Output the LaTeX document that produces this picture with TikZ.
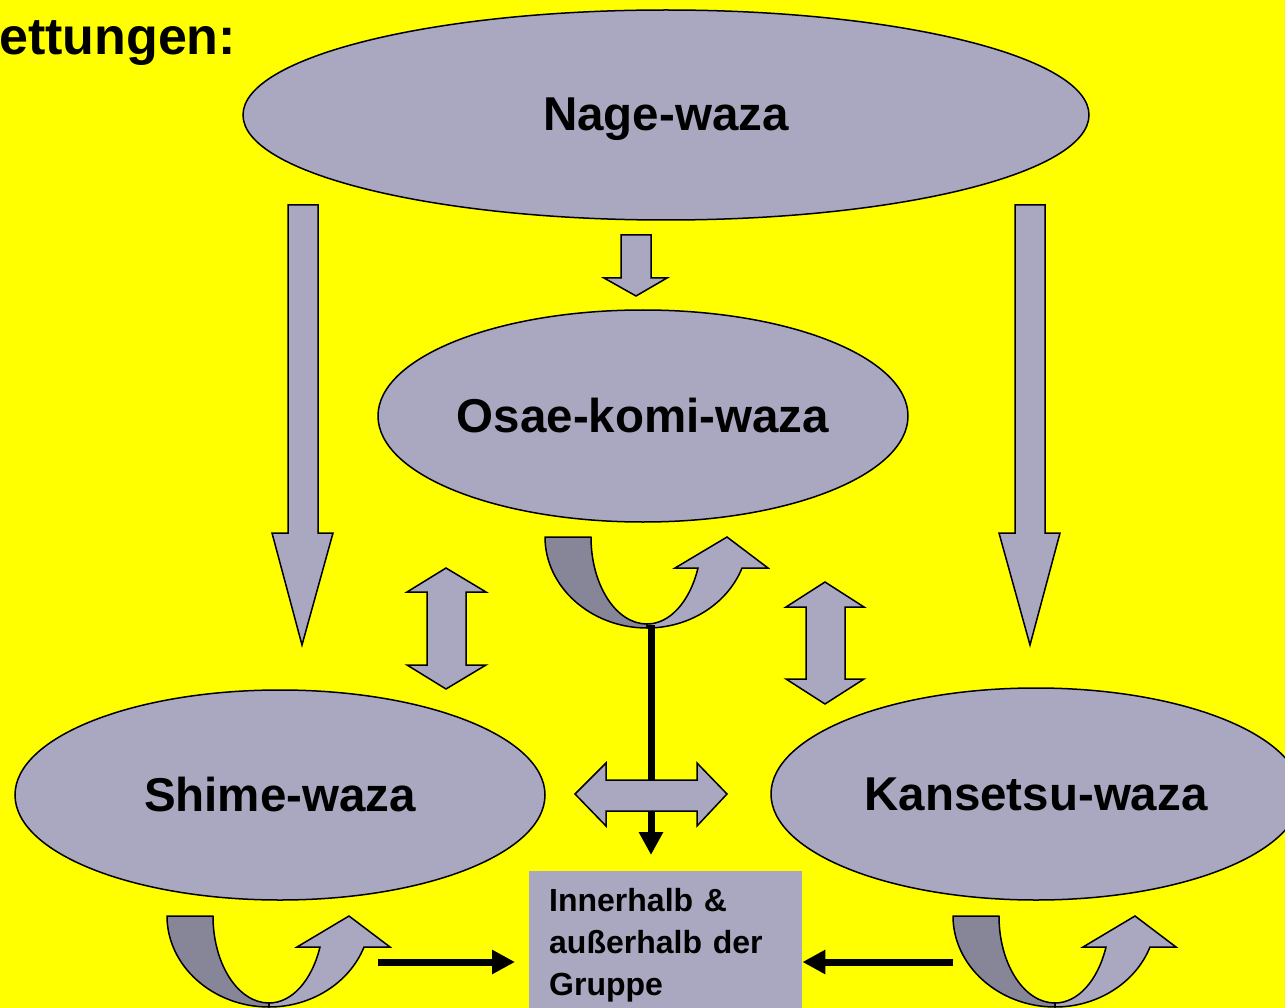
\documentclass[tikz,border=0pt]{standalone}
\usepackage{fontspec}
\setmainfont{Liberation Sans}
\usetikzlibrary{arrows.meta,shapes.geometric}
\definecolor{lav}{RGB}{169,168,192}
\definecolor{lavd}{RGB}{135,134,152}
\definecolor{bg}{RGB}{255,255,0}
\tikzset{
  blk/.style={fill=lav,draw=black,line width=1.5pt,line join=miter},
  ell/.style={ellipse,fill=lav,draw=black,line width=1.5pt,inner sep=0pt,
    text height=32pt,text depth=0pt,
    font=\fontsize{47.5}{57}\selectfont\bfseries},
  bigline/.style={line width=7pt,-{Triangle[length=23pt,width=23pt]}},
  uturn/.pic={
    \draw[fill=lavd,line width=1.5pt,line join=round]
      (0,0) -- (46,0) .. controls (46,48) and (71,87) .. (102,87)
      -- (102,91) .. controls (46,91) and (0,50) .. (0,0) -- cycle;
    \draw[fill=lav,line width=1.5pt,line join=miter]
      (102,91) .. controls (144.4,91) and (182.5,66.9) .. (197,31)
      -- (223,31) -- (182,0) -- (130,31) -- (153,31)
      .. controls (144.8,64.7) and (124.8,87) .. (102,87) -- cycle;
    \coordinate (-bot) at (106,88);
  }
}
\begin{document}
\begin{tikzpicture}[x=1pt,y=-1pt]
\fill[bg] (0,0) rectangle (1285,1008);
\useasboundingbox (0,0) rectangle (1285,1008);
\clip (0,0) rectangle (1285,1008);

% title fragment
\node[anchor=base west,inner sep=0pt,font=\fontsize{52}{60}\selectfont\bfseries] (title) at (-1,55) {ettungen:};

% ellipses
\node[ell,minimum width=846pt,minimum height=210pt] (nage) at (666,115) {Nage-waza};
\node[ell,minimum width=530pt,minimum height=212pt] (osae) at (643,416) {Osae-komi-waza};
\node[ell,minimum width=530pt,minimum height=210pt] (shime) at (280,795) {Shime-waza};
\node[ell,minimum width=530pt,minimum height=212pt] (kan) at (1036,794) {Kansetsu-waza};

% block arrows down
\draw[blk] (288,205) -- (318,205) -- (318,533) -- (333,533) -- (302,645) -- (272,533) -- (288,533) -- cycle;
\draw[blk] (1015,205) -- (1045,205) -- (1045,533) -- (1060,533) -- (1030,645) -- (999,533) -- (1015,533) -- cycle;
\draw[blk] (621,235) -- (651,235) -- (651,278) -- (667,278) -- (636,296) -- (604,278) -- (621,278) -- cycle;

% vertical double arrows
\draw[blk] (446,568) -- (486,592) -- (466,592) -- (466,665) -- (486,665) -- (446,689) -- (407,665) -- (427,665) -- (427,592) -- (407,592) -- cycle;
\draw[blk] (825,582) -- (864,607) -- (845,607) -- (845,679) -- (864,679) -- (825,704) -- (786,679) -- (806,679) -- (806,607) -- (786,607) -- cycle;

% group box
\node[anchor=north west,fill=lav,inner xsep=20pt,inner ysep=17pt,text width=233pt,align=left,
  font=\fontsize{32}{42}\selectfont\bfseries] (grp) at (529,871)
  {Innerhalb \&\\au\ss erhalb der\\Gruppe};

% U-turn arrows
\pic (ut1) at (545,537) {uturn};
\pic (ut2) at (167,916) {uturn};
\pic (ut3) at (953,916) {uturn};

% black connectors
\coordinate (la) at (378,962);
\coordinate (ra) at (953,962);
\draw[bigline,shorten >=16pt] (ut1-bot) -- (ut1-bot |- grp.north);
\draw[bigline,shorten >=14pt] (la) -- (la -| grp.west);
\draw[bigline] (ra) -- (ra -| grp.east);

% horizontal double arrow (on top of line)
\draw[blk] (575,794) -- (606,763) -- (606,780) -- (697,780) -- (697,763) -- (727,794) -- (697,826) -- (697,811) -- (606,811) -- (606,826) -- cycle;
\end{tikzpicture}
\end{document}
